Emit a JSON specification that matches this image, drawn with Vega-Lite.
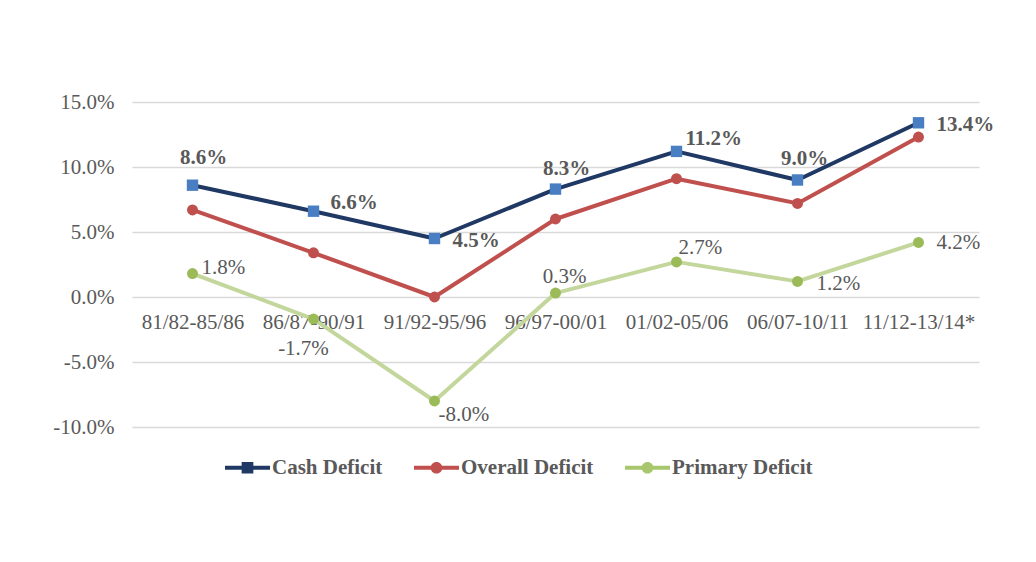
{
  "$schema": "https://vega.github.io/schema/vega-lite/v6.json",
  "width": 847,
  "height": 325,
  "autosize": {"type": "none"},
  "padding": {"left": 132, "top": 102, "right": 57, "bottom": 135},
  "background": "white",
  "config": {
    "view": {"stroke": null},
    "font": "Liberation Serif",
    "locale": {"number": {"decimal": ".", "thousands": ",", "grouping": [3], "currency": ["$", ""], "minus": "-"}}
  },
  "data": {
    "values": [
      {"period": "81/82-85/86", "series": "Cash Deficit", "value": 0.086},
      {"period": "86/87-90/91", "series": "Cash Deficit", "value": 0.066},
      {"period": "91/92-95/96", "series": "Cash Deficit", "value": 0.045},
      {"period": "96/97-00/01", "series": "Cash Deficit", "value": 0.083},
      {"period": "01/02-05/06", "series": "Cash Deficit", "value": 0.112},
      {"period": "06/07-10/11", "series": "Cash Deficit", "value": 0.090},
      {"period": "11/12-13/14*", "series": "Cash Deficit", "value": 0.134},
      {"period": "81/82-85/86", "series": "Overall Deficit", "value": 0.067},
      {"period": "86/87-90/91", "series": "Overall Deficit", "value": 0.034},
      {"period": "91/92-95/96", "series": "Overall Deficit", "value": 0.000},
      {"period": "96/97-00/01", "series": "Overall Deficit", "value": 0.060},
      {"period": "01/02-05/06", "series": "Overall Deficit", "value": 0.091},
      {"period": "06/07-10/11", "series": "Overall Deficit", "value": 0.072},
      {"period": "11/12-13/14*", "series": "Overall Deficit", "value": 0.123},
      {"period": "81/82-85/86", "series": "Primary Deficit", "value": 0.018},
      {"period": "86/87-90/91", "series": "Primary Deficit", "value": -0.017},
      {"period": "91/92-95/96", "series": "Primary Deficit", "value": -0.080},
      {"period": "96/97-00/01", "series": "Primary Deficit", "value": 0.003},
      {"period": "01/02-05/06", "series": "Primary Deficit", "value": 0.027},
      {"period": "06/07-10/11", "series": "Primary Deficit", "value": 0.012},
      {"period": "11/12-13/14*", "series": "Primary Deficit", "value": 0.042}
    ]
  },
  "encoding": {
    "x": {
      "field": "period", "type": "ordinal", "sort": null,
      "scale": {"type": "point", "padding": 0.5},
      "axis": {"title": null, "orient": "bottom", "offset": -130, "domain": false, "ticks": false, "grid": false, "labelAngle": 0, "labelFontSize": 21, "labelColor": "#595959", "labelFont": "Liberation Serif", "labelPadding": 14}
    },
    "y": {
      "field": "value", "type": "quantitative",
      "scale": {"domain": [-0.1, 0.15], "nice": false, "zero": false},
      "axis": {"title": null, "domain": false, "ticks": false, "values": [-0.1, -0.05, 0, 0.05, 0.1, 0.15], "format": ".1%", "labelExpr": "replace(datum.label, '\u2212', '-')", "gridColor": "#D9D9D9", "gridWidth": 1.3, "labelFontSize": 21, "labelColor": "#595959", "labelFont": "Liberation Serif", "labelPadding": 18}
    }
  },
  "layer": [
    {
      "mark": {"type": "line", "strokeWidth": 4, "strokeCap": "round", "strokeJoin": "round"},
      "encoding": {
        "color": {
          "field": "series", "type": "nominal",
          "scale": {"domain": ["Cash Deficit", "Overall Deficit", "Primary Deficit"], "range": ["#1F3864", "#C0504D", "#C3D69B"]},
          "legend": {
            "orient": "none", "legendX": 93, "legendY": 343, "direction": "horizontal", "title": null,
            "symbolSize": 2025, "labelFontSize": 21, "labelFontWeight": "bold", "labelColor": "#595959", "labelFont": "Liberation Serif",
            "labelOffset": 2, "columnPadding": 31, "padding": 0,
            "encode": {
              "symbols": {
                "update": {
                  "shape": {"signal": "datum.value === 'Cash Deficit' ? 'M-1,-0.09H1V0.09H-1Z M-0.26,-0.26H0.26V0.26H-0.26Z' : 'M-1,-0.09H1V0.09H-1Z M-0.26,0 A0.26,0.26 0 1,1 0.26,0 A0.26,0.26 0 1,1 -0.26,0 Z'"},
                  "fill": {"signal": "datum.value === 'Cash Deficit' ? '#1F3864' : datum.value === 'Overall Deficit' ? '#C0504D' : '#A8C66C'"},
                  "strokeWidth": {"value": 0},
                  "opacity": {"value": 1}
                }
              }
            }
          }
        }
      }
    },
    {"transform": [{"filter": "datum.series === 'Cash Deficit'"}], "mark": {"type": "point", "shape": "square", "filled": true, "opacity": 1, "size": 130, "strokeWidth": 0, "color": "#4A7EC2"}, "encoding": {}},
    {"transform": [{"filter": "datum.series === 'Overall Deficit'"}], "mark": {"type": "point", "shape": "circle", "filled": true, "opacity": 1, "size": 120, "strokeWidth": 0, "color": "#C0504D"}, "encoding": {}},
    {"transform": [{"filter": "datum.series === 'Primary Deficit'"}], "mark": {"type": "point", "shape": "circle", "filled": true, "opacity": 1, "size": 120, "strokeWidth": 0, "color": "#9BBB59"}, "encoding": {}},
    {"transform": [{"filter": "datum.series === 'Cash Deficit' && datum.period === '81/82-85/86'"}], "mark": {"type": "text", "align": "center", "baseline": "middle", "dx": 11, "dy": -27, "fontSize": 21, "fontWeight": "bold", "color": "#595959"}, "encoding": {"text": {"field": "value", "format": ".1%"}}},
    {"transform": [{"filter": "datum.series === 'Cash Deficit' && datum.period === '86/87-90/91'"}], "mark": {"type": "text", "align": "left", "baseline": "middle", "dx": 17, "dy": -8, "fontSize": 21, "fontWeight": "bold", "color": "#595959"}, "encoding": {"text": {"field": "value", "format": ".1%"}}},
    {"transform": [{"filter": "datum.series === 'Cash Deficit' && datum.period === '91/92-95/96'"}], "mark": {"type": "text", "align": "left", "baseline": "middle", "dx": 18, "dy": 2, "fontSize": 21, "fontWeight": "bold", "color": "#595959"}, "encoding": {"text": {"field": "value", "format": ".1%"}}},
    {"transform": [{"filter": "datum.series === 'Cash Deficit' && datum.period === '96/97-00/01'"}], "mark": {"type": "text", "align": "center", "baseline": "middle", "dx": 11, "dy": -20, "fontSize": 21, "fontWeight": "bold", "color": "#595959"}, "encoding": {"text": {"field": "value", "format": ".1%"}}},
    {"transform": [{"filter": "datum.series === 'Cash Deficit' && datum.period === '01/02-05/06'"}], "mark": {"type": "text", "align": "left", "baseline": "middle", "dx": 9, "dy": -12, "fontSize": 21, "fontWeight": "bold", "color": "#595959"}, "encoding": {"text": {"field": "value", "format": ".1%"}}},
    {"transform": [{"filter": "datum.series === 'Cash Deficit' && datum.period === '06/07-10/11'"}], "mark": {"type": "text", "align": "center", "baseline": "middle", "dx": 7, "dy": -21, "fontSize": 21, "fontWeight": "bold", "color": "#595959"}, "encoding": {"text": {"field": "value", "format": ".1%"}}},
    {"transform": [{"filter": "datum.series === 'Cash Deficit' && datum.period === '11/12-13/14*'"}], "mark": {"type": "text", "align": "left", "baseline": "middle", "dx": 18, "dy": 2, "fontSize": 21, "fontWeight": "bold", "color": "#595959"}, "encoding": {"text": {"field": "value", "format": ".1%"}}},
    {"transform": [{"filter": "datum.series === 'Primary Deficit' && datum.period === '81/82-85/86'"}], "mark": {"type": "text", "align": "left", "baseline": "middle", "dx": 9, "dy": -6, "fontSize": 21, "color": "#595959"}, "encoding": {"text": {"field": "value", "format": ".1%"}}},
    {"transform": [{"filter": "datum.series === 'Primary Deficit' && datum.period === '86/87-90/91'"}], "mark": {"type": "text", "align": "center", "baseline": "middle", "dx": -10, "dy": 30, "fontSize": 21, "color": "#595959"}, "encoding": {"text": {"field": "value", "format": ".1%"}}},
    {"transform": [{"filter": "datum.series === 'Primary Deficit' && datum.period === '91/92-95/96'"}], "mark": {"type": "text", "align": "left", "baseline": "middle", "dx": 4, "dy": 14, "fontSize": 21, "color": "#595959"}, "encoding": {"text": {"field": "value", "format": ".1%"}}},
    {"transform": [{"filter": "datum.series === 'Primary Deficit' && datum.period === '96/97-00/01'"}], "mark": {"type": "text", "align": "center", "baseline": "middle", "dx": 9, "dy": -16, "fontSize": 21, "color": "#595959"}, "encoding": {"text": {"field": "value", "format": ".1%"}}},
    {"transform": [{"filter": "datum.series === 'Primary Deficit' && datum.period === '01/02-05/06'"}], "mark": {"type": "text", "align": "left", "baseline": "middle", "dx": 2, "dy": -14, "fontSize": 21, "color": "#595959"}, "encoding": {"text": {"field": "value", "format": ".1%"}}},
    {"transform": [{"filter": "datum.series === 'Primary Deficit' && datum.period === '06/07-10/11'"}], "mark": {"type": "text", "align": "left", "baseline": "middle", "dx": 19, "dy": 3, "fontSize": 21, "color": "#595959"}, "encoding": {"text": {"field": "value", "format": ".1%"}}},
    {"transform": [{"filter": "datum.series === 'Primary Deficit' && datum.period === '11/12-13/14*'"}], "mark": {"type": "text", "align": "left", "baseline": "middle", "dx": 18, "dy": 1, "fontSize": 21, "color": "#595959"}, "encoding": {"text": {"field": "value", "format": ".1%"}}}
  ]
}
